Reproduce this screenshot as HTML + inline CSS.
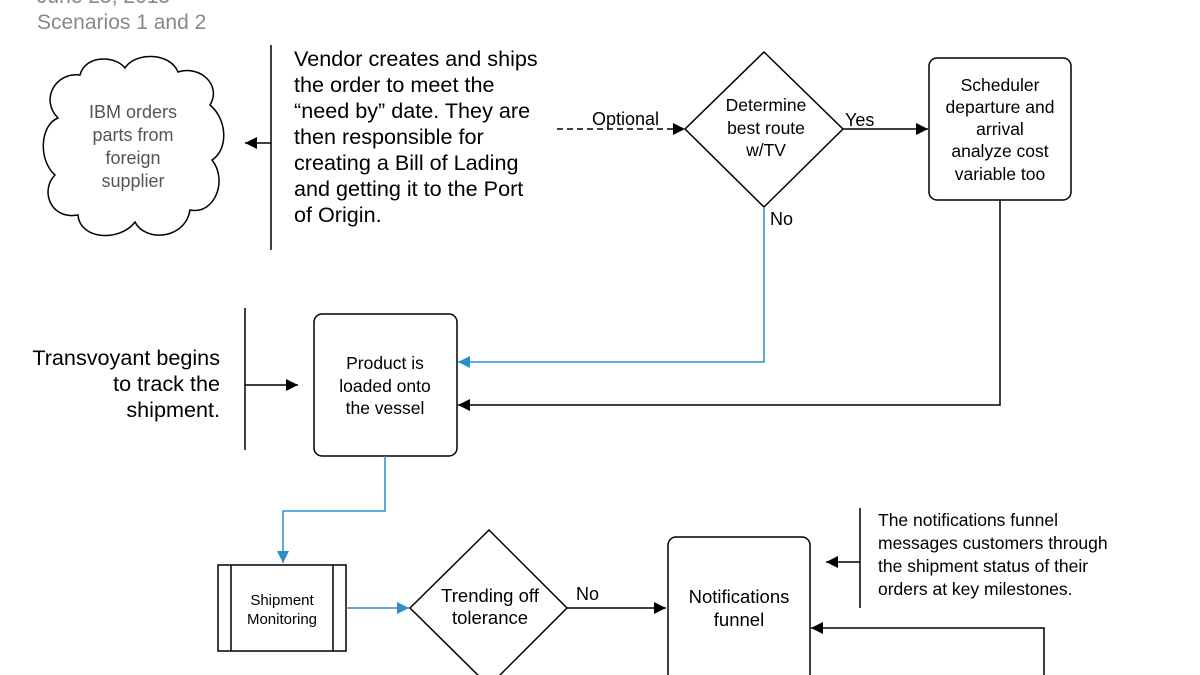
<!DOCTYPE html>
<html><head><meta charset="utf-8"><style>body{margin:0;background:#fff}svg{display:block}text{font-family:"Liberation Sans",sans-serif}</style></head><body>
<svg width="1200" height="675" viewBox="0 0 1200 675" xmlns="http://www.w3.org/2000/svg">
<defs>
<marker id="a" viewBox="0 0 10 10" refX="10" refY="5" markerWidth="12" markerHeight="12" markerUnits="userSpaceOnUse" orient="auto"><path d="M0,0L10,5L0,10z" fill="#000"/></marker>
<marker id="b" viewBox="0 0 10 10" refX="10" refY="5" markerWidth="12" markerHeight="12" markerUnits="userSpaceOnUse" orient="auto"><path d="M0,0L10,5L0,10z" fill="#2a8ec8"/></marker>
</defs>
<text x="37" y="3" font-size="21" fill="#888">June 25, 2015</text>
<text x="37" y="29" font-size="21" fill="#888">Scenarios 1 and 2</text>
<path d="M80,75 C85,55 115,55 125,68 C135,52 170,52 178,72 C200,65 222,85 210,105 C228,120 228,150 212,160 C228,180 215,215 190,210 C185,240 145,242 135,222 C120,242 80,240 78,215 C50,220 40,190 55,175 C38,160 40,125 58,118 C40,100 55,72 80,75 Z" fill="none" stroke="#000" stroke-width="1.5"/>
<g font-size="18" fill="#555" text-anchor="middle"><text x="133" y="118">IBM orders</text><text x="133" y="141">parts from</text><text x="133" y="164">foreign</text><text x="133" y="187">supplier</text></g>
<g stroke="#000" stroke-width="1.5" fill="none">
<line x1="271" y1="45" x2="271" y2="250"/>
<line x1="271" y1="143" x2="245" y2="143" marker-end="url(#a)"/>
<line x1="557" y1="129" x2="685" y2="129" stroke-dasharray="6,4" marker-end="url(#a)"/>
<path d="M764,52L843,129L764,207L685,129Z"/>
<line x1="843" y1="129" x2="928" y2="129" marker-end="url(#a)"/>
<rect x="929" y="58" width="142" height="142" rx="8"/>
<path d="M1000,200V405H458" marker-end="url(#a)"/>
<rect x="314" y="314" width="143" height="142" rx="8"/>
<line x1="245" y1="308" x2="245" y2="450"/>
<line x1="245" y1="385" x2="298" y2="385" marker-end="url(#a)"/>
<rect x="218" y="565" width="128" height="86"/>
<line x1="231" y1="565" x2="231" y2="651"/><line x1="333" y1="565" x2="333" y2="651"/>
<path d="M489,530L567,608L489,686L410,608Z"/>
<line x1="567" y1="608" x2="666" y2="608" marker-end="url(#a)"/>
<rect x="668" y="537" width="142" height="155" rx="8"/>
<line x1="860" y1="508" x2="860" y2="608"/>
<line x1="860" y1="562" x2="826" y2="562" marker-end="url(#a)"/>
<path d="M1044,680V628H811" marker-end="url(#a)"/>
</g>
<g stroke="#2a8ec8" stroke-width="1.5" fill="none">
<path d="M764,207V362H458" marker-end="url(#b)"/>
<path d="M385,456V511H283V563" marker-end="url(#b)"/>
<line x1="346" y1="608" x2="409" y2="608" marker-end="url(#b)"/>
</g>
<g font-size="21.6" fill="#000"><text x="294" y="66">Vendor creates and ships</text><text x="294" y="92">the order to meet the</text><text x="294" y="118">“need by” date. They are</text><text x="294" y="144">then responsible for</text><text x="294" y="170">creating a Bill of Lading</text><text x="294" y="196">and getting it to the Port</text><text x="294" y="222">of Origin.</text></g>
<g font-size="21.6" text-anchor="end"><text x="220" y="365">Transvoyant begins</text><text x="220" y="391">to track the</text><text x="220" y="417">shipment.</text></g>
<text x="592" y="125" font-size="18">Optional</text>
<text x="845" y="126" font-size="18">Yes</text>
<text x="770" y="225" font-size="18">No</text>
<text x="576" y="600" font-size="18">No</text>
<g font-size="17.5" text-anchor="middle">
<text x="766" y="111">Determine</text><text x="766" y="134">best route</text><text x="766" y="156">w/TV</text>
<text x="1000" y="91">Scheduler</text><text x="1000" y="113">departure and</text><text x="1000" y="135">arrival</text><text x="1000" y="157">analyze cost</text><text x="1000" y="180">variable too</text>
<text x="385" y="369">Product is</text><text x="385" y="392">loaded onto</text><text x="385" y="414">the vessel</text>
</g>
<g font-size="15" text-anchor="middle"><text x="282" y="605">Shipment</text><text x="282" y="624">Monitoring</text></g>
<g font-size="18.5" text-anchor="middle"><text x="490" y="602">Trending off</text><text x="490" y="624">tolerance</text><text x="739" y="603">Notifications</text><text x="739" y="626">funnel</text></g>
<g font-size="17.5"><text x="878" y="526">The notifications funnel</text><text x="878" y="549">messages customers through</text><text x="878" y="572">the shipment status of their</text><text x="878" y="595">orders at key milestones.</text></g>
</svg>
</body></html>
